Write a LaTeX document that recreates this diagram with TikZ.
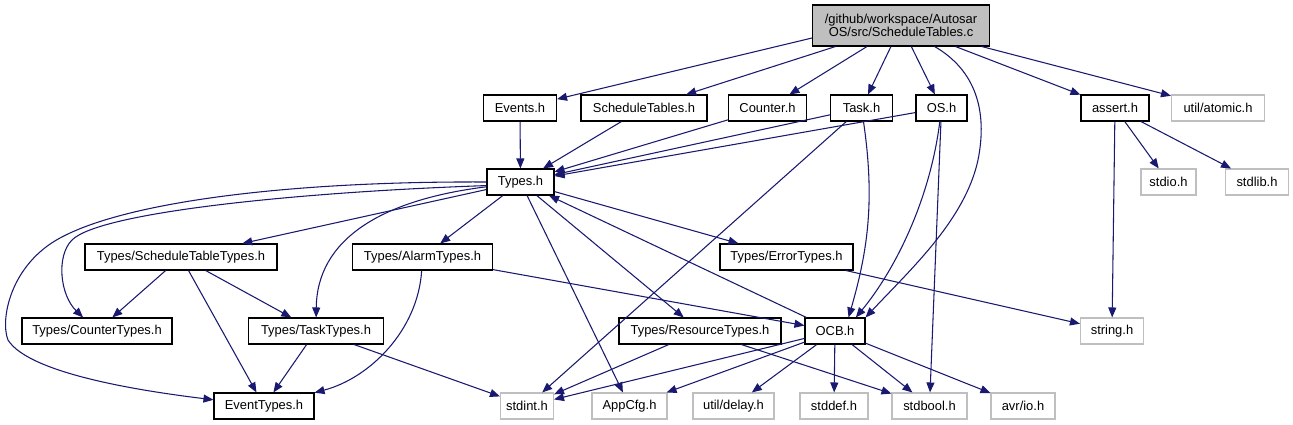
\documentclass[tikz,border=0pt]{standalone}
\usepackage{fontspec}
\setmainfont{Liberation Sans}
\usepackage{xcolor}
\usepackage{tikz}
\usetikzlibrary{positioning, arrows.meta}

\definecolor{edgeblue}{HTML}{191970}
\definecolor{extgray}{HTML}{BFBFBF}

\begin{document}
\begin{tikzpicture}[
        x=0.75pt, y=-0.75pt,
        file/.style={
            draw=black,
            line width=0.8pt,
            rectangle,
            minimum height=19.5pt,
            inner sep=0pt,
            align=center,
            font=\fontsize{9.7pt}{10pt}\selectfont
        },
        sysfile/.style={file, draw=extgray},
        mainfile/.style={file, fill=extgray, minimum height=30.75pt},
        dep/.style={-{Triangle[length=7.5pt,width=6pt]}, draw=edgeblue, line width=0.8pt}
    ]

        \useasboundingbox (0,0) rectangle (1293,425);

        \node[mainfile, minimum width=132.75pt] (main) at (901,25.5) {/github/workspace/Autosar\\OS/src/ScheduleTables.c};

        \node[file, minimum width=54.75pt] (events) at (520,108) {Events.h};
        \node[file, minimum width=94.5pt] (schedtab) at (644,108) {ScheduleTables.h};
        \node[file, minimum width=58.5pt] (counter) at (767.5,108) {Counter.h};
        \node[file, minimum width=46.5pt] (task) at (861.5,108) {Task.h};
        \node[file, minimum width=38.25pt] (os) at (941.5,108) {OS.h};
        \node[file, minimum width=51pt] (assert) at (1115,108) {assert.h};
        \node[sysfile, minimum width=69.75pt] (atomic) at (1218,108) {util/atomic.h};

        \node[file, minimum width=50.25pt] (types) at (520.5,182) {Types.h};
        \node[sysfile, minimum width=41.25pt] (stdio) at (1168.5,182) {stdio.h};
        \node[sysfile, minimum width=47.25pt] (stdlib) at (1257,182) {stdlib.h};

        \node[file, minimum width=144pt] (schedtt) at (181,257) {Types/ScheduleTableTypes.h};
        \node[file, minimum width=105pt] (alarmt) at (422.5,257) {Types/AlarmTypes.h};
        \node[file, minimum width=99.75pt] (errort) at (786.5,257) {Types/ErrorTypes.h};

        \node[file, minimum width=112.5pt] (countert) at (97,331) {Types/CounterTypes.h};
        \node[file, minimum width=101.25pt] (taskt) at (316,331) {Types/TaskTypes.h};
        \node[file, minimum width=121.5pt] (resourcet) at (700,331) {Types/ResourceTypes.h};
        \node[file, minimum width=45pt] (ocb) at (835,331) {OCB.h};
        \node[sysfile, minimum width=47.25pt] (string) at (1112,331) {string.h};

        \node[file, minimum width=75pt] (eventt) at (264,406) {EventTypes.h};
        \node[sysfile, minimum width=39.75pt] (stdint) at (527,406) {stdint.h};
        \node[sysfile, minimum width=56.25pt] (appcfg) at (629.5,406) {AppCfg.h};
        \node[sysfile, minimum width=60.75pt] (delay) at (733.5,406) {util/delay.h};
        \node[sysfile, minimum width=51pt] (stddef) at (834,406) {stddef.h};
        \node[sysfile, minimum width=56.25pt] (stdbool) at (929.5,406) {stdbool.h};
        \node[sysfile, minimum width=48pt] (avrio) at (1023,406) {avr/io.h};

        \draw[dep] (main.188) -- (events);
        \draw[dep] (main) -- (schedtab);
        \draw[dep] (main) -- (counter);
        \draw[dep] (main) -- (task);
        \draw[dep] (main) -- (os);
        \draw[dep] (main.328) .. controls (975,70) and (988,110) .. (978,160)
            .. controls (965,220) and (910,270) .. (ocb.north east);
        \draw[dep] (main) -- (assert);
        \draw[dep] (main) -- (atomic);

        \draw[dep] (events) -- (types);
        \draw[dep] (schedtab) -- (types);
        \draw[dep] (counter) -- (types);
        \draw[dep] (task) -- (types);
        \draw[dep] (task) -- (stdint);
        \draw[dep] (task) .. controls (875,200) and (868,250) .. (ocb.45);
        \draw[dep] (os) -- (types);
        \draw[dep] (os) .. controls (930,200) and (895,270) .. (ocb.33);
        \draw[dep] (os) -- (stdbool);
        \draw[dep] (assert) -- (stdio);
        \draw[dep] (assert) -- (stdlib);
        \draw[dep] (assert) -- (string);

        \draw[dep] (types) -- (schedtt);
        \draw[dep] (types) -- (alarmt);
        \draw[dep] (types) -- (errort);
        \draw[dep] (types) -- (appcfg);
        \draw[dep] (types) -- (resourcet);
        \draw[dep] (types.186) .. controls (300,192) and (100,212) .. (72,240)
            .. controls (56,256) and (60,295) .. (countert);
        \draw[dep] (types.188) .. controls (380,200) and (317,240) .. (taskt);
        \draw[dep] (types.west) .. controls (300,181) and (130,200) .. (60,238)
            .. controls (10,265) and (0,320) .. (8,340)
            .. controls (30,375) and (150,392) .. (eventt.173);

        \draw[dep] (schedtt) -- (countert);
        \draw[dep] (schedtt) -- (taskt);
        \draw[dep] (schedtt) -- (eventt);
        \draw[dep] (alarmt) .. controls (418,330) and (370,378) .. (eventt);
        \draw[dep] (alarmt) -- (ocb);
        \draw[dep] (errort) -- (string);
        \draw[dep] (taskt) -- (eventt);
        \draw[dep] (taskt) -- (stdint);
        \draw[dep] (resourcet) -- (stdint);
        \draw[dep] (resourcet) -- (stdbool);

        \draw[dep] (ocb) -- (types);
        \draw[dep] (ocb) -- (stdint);
        \draw[dep] (ocb) -- (appcfg);
        \draw[dep] (ocb) -- (delay);
        \draw[dep] (ocb) -- (stddef);
        \draw[dep] (ocb) -- (stdbool);
        \draw[dep] (ocb) -- (avrio);

    \end{tikzpicture}
\end{document}
